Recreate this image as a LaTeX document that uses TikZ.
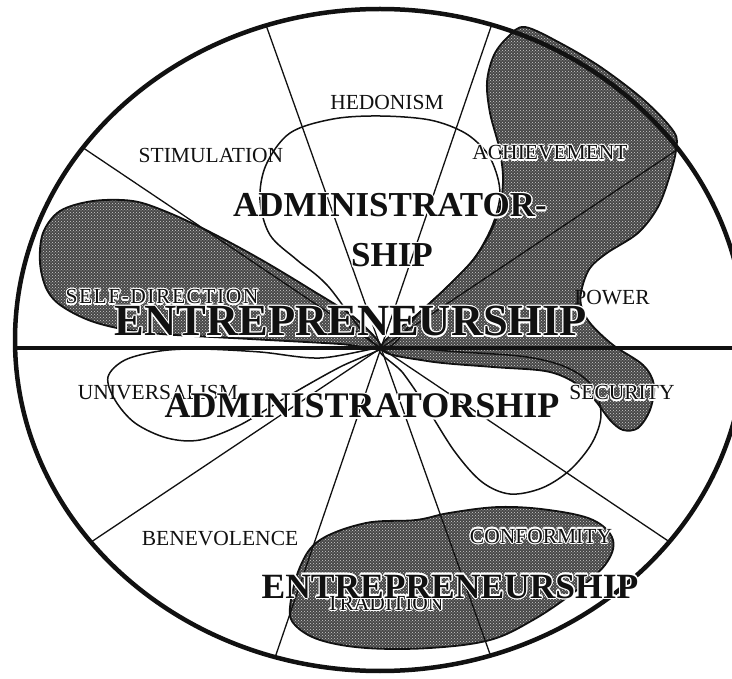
\documentclass[tikz,border=0pt]{standalone}
\usepackage{fontspec}
\setmainfont{Liberation Serif}
\usepackage{contour}
\contourlength{1.1pt}
\usetikzlibrary{patterns}
\definecolor{ink}{HTML}{111111}
\definecolor{shade}{HTML}{474747}
\definecolor{grain}{HTML}{CFCFCF}

\begin{document}
\begin{tikzpicture}[x=1pt, y=-1pt,
  value/.style={font=\fontsize{21.5}{22}\selectfont, text=ink, anchor=base, inner sep=0pt},
  role/.style={text=ink, anchor=base, inner sep=0pt},
  blob/.style={preaction={fill=shade}, pattern=crosshatch dots, pattern color=grain,
               draw=ink, line width=1.8pt},
  loop/.style={draw=ink, line width=1.5pt},
  spoke/.style={draw=ink, line width=1.3pt}]

\useasboundingbox (0,0) rectangle (732,679);
\fill[white] (0,0) rectangle (732,679);
\clip (0,0) rectangle (732,679);

% centre of the wheel and the point where the spokes meet
\coordinate (mid) at (380,340);
\coordinate (hub) at (381,348);

% --- Shaded regions ---

% achievement / power / security
\path[blob] plot[smooth cycle, tension=0.55] coordinates {
  (hub) (420,312) (447,287) (473,260) (490,233) (500,207) (503,177)
  (499,147) (490,113) (487,82) (494,55) (508,37) (525,27) (562,44)
  (602,68) (645,101) (674,132) (676,150) (670,175) (658,207) (638,233)
  (607,253) (590,268) (582,288) (581,305) (590,323) (613,345) (643,365)
  (654,385) (650,410) (638,428) (623,430) (610,420) (593,398) (572,381)
  (545,371) (493,367) (427,361)};

% self-direction
\path[blob] plot[smooth cycle, tension=0.55] coordinates {
  (hub) (355,318) (310,289) (260,259) (210,232) (167,212) (133,201)
  (93,201) (60,211) (43,233) (40,263) (47,290) (63,307) (97,323)
  (150,333) (250,339) (340,344)};

% conformity / tradition
\path[blob] plot[smooth cycle, tension=0.6] coordinates {
  (290,607) (300,567) (320,540) (366,523) (416,520) (449,513) (499,507)
  (549,510) (593,520) (613,540) (605,565) (573,593) (533,620) (490,640)
  (430,648) (366,648) (320,640) (295,625)};

% --- Outlined regions ---

% hedonism
\draw[loop] plot[smooth cycle, tension=0.55] coordinates {
  (hub) (327,285) (297,260) (270,235) (260,200) (266,165) (290,133)
  (333,119) (380,116) (430,120) (465,133) (487,153) (497,175) (500,195)
  (496,215) (488,235) (473,260) (447,287) (420,312)};

% universalism
\draw[loop] plot[smooth cycle, tension=0.55] coordinates {
  (hub) (320,358) (260,352) (200,349) (160,351) (125,360) (108,377)
  (115,400) (135,423) (167,438) (200,440) (240,425) (290,395) (340,367)};

% security / conformity side
\draw[loop] plot[smooth cycle, tension=0.55] coordinates {
  (hub) (403,373) (427,408) (455,452) (482,482) (510,494) (542,488)
  (570,470) (592,443) (601,415) (593,387) (568,368) (527,357) (460,352)};

% --- Spokes and rim ---
\begin{scope}
  \clip (mid) ellipse [x radius=365pt, y radius=331pt];
  \foreach \ang in {33.9, 70.4, 108.9, 146.2}
    \draw[spoke] (hub) -- +(\ang:450) (hub) -- +(\ang+180:450);
  \draw[ink, line width=4.5pt] (hub) -- +(-450,0) (hub) -- +(450,0);
\end{scope}
\draw[ink, line width=4.5pt] (mid) ellipse [x radius=365pt, y radius=331pt];

% --- Values ---
\node[value] (hedonism) at (387,110) {HEDONISM};
\node[value] (stimulation) at (211,163) {STIMULATION};
\node[value] (achievement) at (550,160) {\contour{white}{ACHIEVEMENT}};
\node[value] (selfdirection) at (162,304)
  {\addfontfeature{LetterSpace=7}\contour{white}{SELF-DIRECTION}};
\node[value] (power) at (612,305) {POWER};
\node[value] (universalism) at (158,400) {UNIVERSALISM};
\node[value] (security) at (622,400) {\contour{white}{SECURITY}};
\node[value] (benevolence) at (220,545) {BENEVOLENCE};
\node[value] (conformity) at (541,543) {\contour{white}{CONFORMITY}};
\node[value] (tradition) at (385,610) {\contour{white}{TRADITION}};

% --- Roles ---
\node[role, font=\fontsize{35}{35}\selectfont\bfseries] (adminup) at (390,217)
  {\contour{white}{ADMINISTRATOR-}};
\node[role, font=\fontsize{35}{35}\selectfont\bfseries] (adminship) at (392,267)
  {\contour{white}{SHIP}};
\node[role, font=\fontsize{44.5}{45}\selectfont\bfseries] (entreup) at (351,336)
  {\contour{white}{ENTREPRENEURSHIP}};
\node[role, font=\fontsize{36}{36}\selectfont\bfseries] (admindown) at (362,418)
  {\contour{white}{ADMINISTRATORSHIP}};
\node[role, font=\fontsize{35.5}{36}\selectfont\bfseries] (entredown) at (450,598)
  {\contour{white}{ENTREPRENEURSHIP}};

\end{tikzpicture}
\end{document}
